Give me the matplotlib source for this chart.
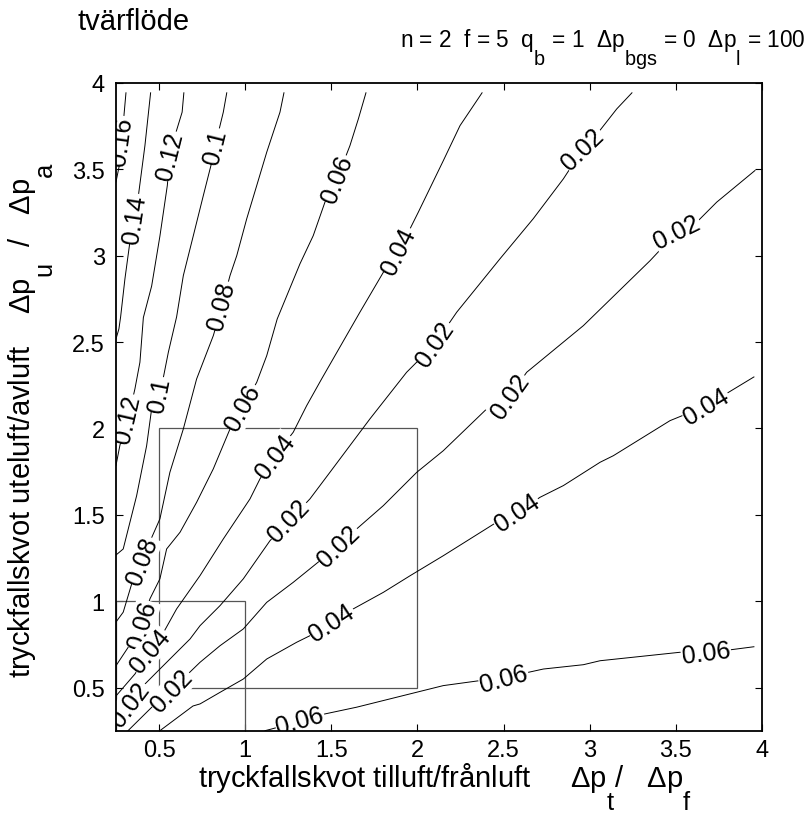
import numpy as np
import matplotlib.pyplot as plt
from matplotlib.patches import Rectangle

plt.rcParams['font.family'] = ['Liberation Sans', 'DejaVu Sans']
plt.rcParams['mathtext.fontset'] = 'custom'
plt.rcParams['mathtext.rm'] = 'Liberation Sans'
plt.rcParams['mathtext.it'] = 'Liberation Sans:italic'
plt.rcParams['mathtext.default'] = 'regular'

# MATLAB-ish subscripts: nearly full size and set well below the baseline
try:
    import matplotlib._mathtext as _mt
    _mt.SHRINK_FACTOR = 0.88
    _mt.FontConstantsBase.sub1 = 1.45
except Exception:
    pass

# contour lines, (x, y) in data units
line_016 = [(0.308, 3.943), (0.291, 3.752), (0.279, 3.665), (0.269, 3.52), (0.25, 3.427)]
line_014 = [(0.451, 3.943), (0.418, 3.637), (0.379, 3.339), (0.36, 3.214), (0.331, 3.081),
            (0.302, 2.866), (0.277, 2.646), (0.267, 2.576), (0.25, 2.518)]
line_012 = [(0.644, 3.943), (0.634, 3.831), (0.592, 3.694), (0.563, 3.578), (0.548, 3.406),
            (0.505, 3.113), (0.457, 2.824), (0.409, 2.642), (0.389, 2.383), (0.36, 2.229),
            (0.32, 2.055), (0.273, 1.903), (0.25, 1.785)]
line_010 = [(0.893, 3.943), (0.873, 3.831), (0.825, 3.635), (0.806, 3.541), (0.757, 3.348),
            (0.699, 3.116), (0.641, 2.885), (0.602, 2.646), (0.554, 2.441), (0.505, 2.194),
            (0.457, 2.113), (0.428, 1.9), (0.37, 1.611), (0.292, 1.302), (0.25, 1.267)]
line_008 = [(1.225, 3.943), (1.202, 3.831), (1.125, 3.599), (1.067, 3.406), (1.009, 3.214),
            (0.951, 3.0), (0.912, 2.885), (0.865, 2.709), (0.815, 2.537), (0.718, 2.286),
            (0.641, 1.997), (0.563, 1.746), (0.505, 1.476), (0.428, 1.302), (0.401, 1.233),
            (0.35, 1.129), (0.292, 0.936), (0.25, 0.879)]
line_006 = [(1.701, 3.943), (1.657, 3.792), (1.608, 3.637), (1.533, 3.445), (1.463, 3.31),
            (1.395, 3.116), (1.318, 2.953), (1.186, 2.634), (1.125, 2.421), (1.067, 2.267),
            (0.987, 2.124), (0.912, 1.997), (0.815, 1.766), (0.718, 1.572), (0.622, 1.399),
            (0.544, 1.302), (0.505, 1.129), (0.447, 1.013), (0.401, 0.862), (0.321, 0.733),
            (0.25, 0.626)]
line_004 = [(2.375, 3.943), (2.247, 3.753), (2.15, 3.55), (2.005, 3.252), (1.893, 3.028),
            (1.802, 2.904), (1.666, 2.673), (1.444, 2.287), (1.357, 2.132), (1.279, 1.978),
            (1.173, 1.841), (1.086, 1.708), (1.028, 1.592), (0.873, 1.36), (0.738, 1.148),
            (0.602, 0.955), (0.505, 0.781), (0.447, 0.712), (0.36, 0.578), (0.25, 0.451)]
line_002a = [(3.245, 3.943), (3.157, 3.85), (3.021, 3.677), (2.961, 3.619), (2.847, 3.445),
             (2.672, 3.214), (2.479, 2.982), (2.228, 2.673), (2.102, 2.49), (1.937, 2.325),
             (1.724, 2.055), (1.492, 1.746), (1.376, 1.592), (1.254, 1.464), (1.144, 1.35),
             (0.989, 1.129), (0.854, 0.974), (0.738, 0.858), (0.68, 0.781), (0.505, 0.607),
             (0.418, 0.52), (0.331, 0.405), (0.25, 0.329)]
line_002b = [(3.959, 3.493), (3.737, 3.31), (3.621, 3.194), (3.507, 3.138), (3.35, 2.971),
             (2.963, 2.595), (2.634, 2.325), (2.537, 2.188), (2.402, 2.113), (2.15, 1.871),
             (1.996, 1.746), (1.802, 1.553), (1.647, 1.418), (1.544, 1.319), (1.434, 1.234),
             (1.279, 1.109), (1.125, 0.993), (0.989, 0.839), (0.854, 0.742), (0.738, 0.646),
             (0.68, 0.59), (0.575, 0.48), (0.465, 0.393), (0.32, 0.25)]
line_004b = [(3.953, 2.298), (3.675, 2.13), (3.466, 2.045), (3.137, 1.842), (3.06, 1.804),
             (2.847, 1.669), (2.711, 1.601), (2.578, 1.511), (2.46, 1.457), (2.15, 1.263),
             (1.957, 1.147), (1.802, 1.051), (1.627, 0.955), (1.504, 0.874), (1.376, 0.8),
             (1.299, 0.762), (1.125, 0.665), (0.989, 0.549), (0.854, 0.472), (0.738, 0.405),
             (0.697, 0.393), (0.505, 0.25)]
line_006b = [(3.953, 0.736), (3.675, 0.7), (3.524, 0.704), (3.06, 0.655), (2.963, 0.632),
             (2.731, 0.607), (2.644, 0.588), (2.502, 0.549), (2.363, 0.54), (2.15, 0.511),
             (1.647, 0.386), (1.463, 0.347), (1.318, 0.306), (1.154, 0.26), (1.115, 0.25)]

level_text = ['0.16', '0.14', '0.12', '0.1', '0.08', '0.06', '0.04', '0.02', '0.02', '0.04', '0.06']
lines = [line_016, line_014, line_012, line_010, line_008, line_006, line_004,
         line_002a, line_002b, line_004b, line_006b]

# where the labels sit (approx), per line
label_spots = [
    [(0.279, 3.665)],
    [(0.36, 3.214)],
    [(0.563, 3.578), (0.32, 2.055)],
    [(0.825, 3.635), (0.505, 2.194)],
    [(0.865, 2.709), (0.401, 1.233)],
    [(1.533, 3.445), (0.987, 2.124), (0.401, 0.862)],
    [(1.893, 3.028), (1.173, 1.841), (0.447, 0.712)],
    [(2.961, 3.619), (2.102, 2.49), (1.254, 1.464), (0.331, 0.405)],
    [(3.507, 3.138), (2.537, 2.188), (1.544, 1.319), (0.575, 0.48)],
    [(3.675, 2.13), (2.578, 1.511), (1.504, 0.874)],
    [(3.675, 0.7), (2.502, 0.549), (1.318, 0.306)],
]

boxes = [(0.5, 0.5, 2.0, 2.0), (0.25, 0.25, 1.0, 1.0)]
ticks = [0.5, 1, 1.5, 2, 2.5, 3, 3.5, 4]


def put_label(ax, pts, lx, ly, txt):
    p = ax.transData.transform(np.array(pts))
    q0 = ax.transData.transform((lx, ly))
    best = None
    for i in range(len(p) - 1):
        a, b = p[i], p[i + 1]
        d = b - a
        t = np.clip(np.dot(q0 - a, d) / np.dot(d, d), 0, 1)
        q = a + t * d
        dist = np.hypot(*(q0 - q))
        if best is None or dist < best[0]:
            best = (dist, q, d)
    _, q, d = best
    ang = np.degrees(np.arctan2(d[1], d[0]))
    if ang > 90:
        ang -= 180
    if ang < -90:
        ang += 180
    x, y = ax.transData.inverted().transform(q)
    ax.text(x, y, txt, rotation=ang, rotation_mode='anchor', ha='center', va='center',
            fontsize=18, zorder=5, clip_on=True,
            bbox=dict(facecolor='white', edgecolor='none', pad=0.6))


fig = plt.figure(figsize=(8.11, 8.2), dpi=100)
ax = fig.add_axes([0.143, 0.1077, 0.7966, 0.7899])
ax.set_xlim(0.25, 4)
ax.set_ylim(0.25, 4)

for pts in lines:
    xs, ys = zip(*pts)
    ax.plot(xs, ys, color='k', lw=0.7, zorder=3)

for pts, spots, txt in zip(lines, label_spots, level_text):
    for lx, ly in spots:
        put_label(ax, pts, lx, ly, txt)

for x0, y0, x1, y1 in boxes:
    ax.add_patch(Rectangle((x0, y0), x1 - x0, y1 - y0, fill=False,
                           edgecolor='#555555', lw=0.9, zorder=2))

ax.set_xticks(ticks)
ax.set_yticks(ticks)
ax.set_xticklabels(['0.5', '1', '1.5', '2', '2.5', '3', '3.5', '4'])
ax.set_yticklabels(['0.5', '1', '1.5', '2', '2.5', '3', '3.5', '4'])
ax.tick_params(direction='in', top=True, right=True, length=5, width=0.8,
               labelsize=17)
ax.tick_params(axis='x', pad=6)
ax.tick_params(axis='y', pad=8)
for s in ax.spines.values():
    s.set_linewidth(1.3)
    s.set_zorder(6)

fig.text(77 / 811, 1 - 30 / 820, 'tvärflöde', fontsize=21, va='baseline')
fig.text(806 / 811, 1 - 47 / 820,
         r'n = 2  f = 5  q$_{b}$ = 1  $\Delta$p$_{bgs}$ = 0  $\Delta$p$_{l}$ = 100',
         fontsize=16.3, ha='right', va='baseline')
fig.text(445 / 811, 1 - 788 / 820,
         r'tryckfallskvot tilluft/frånluft     $\Delta$p$_{t}$/   $\Delta$p$_{f}$',
         fontsize=21, ha='center', va='baseline')
fig.text(31 / 811, 1 - 420 / 820,
         r'tryckfallskvot uteluft/avluft    $\Delta$p$_{u}$  /   $\Delta$p$_{a}$',
         fontsize=21, ha='center', va='center', rotation=90)

fig.savefig('out.png', dpi=100)
